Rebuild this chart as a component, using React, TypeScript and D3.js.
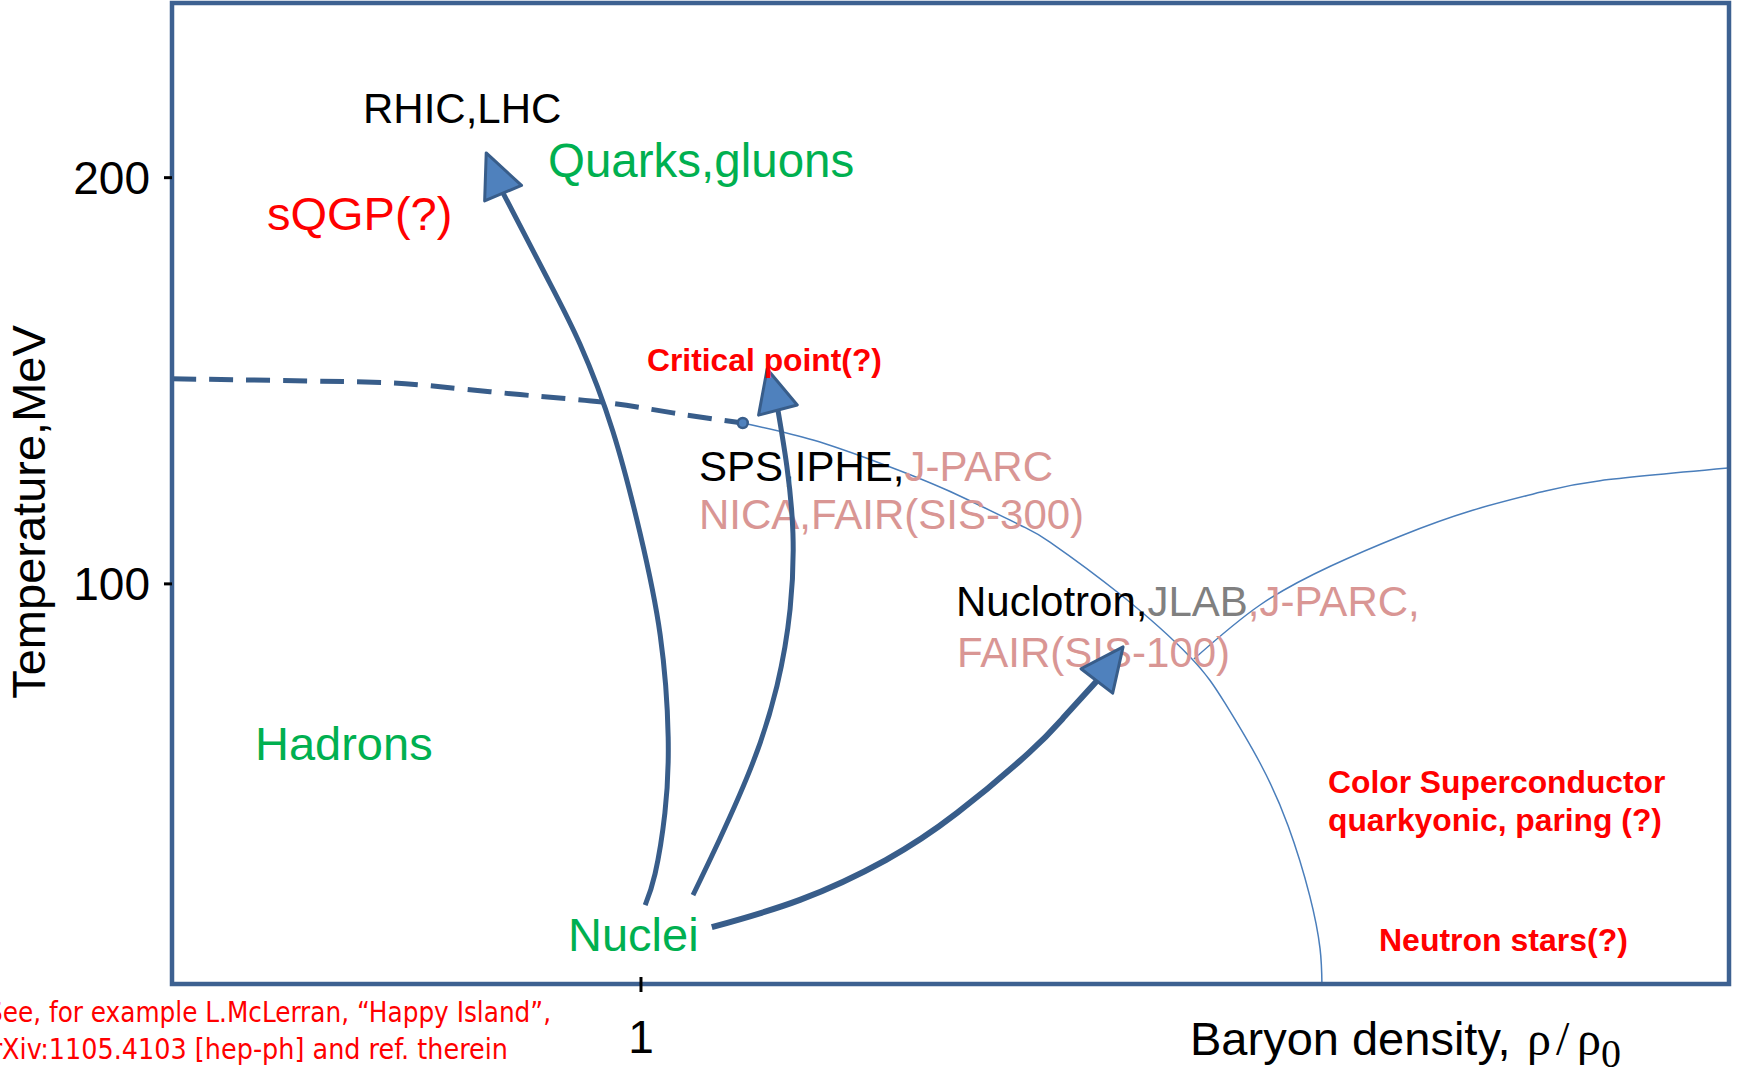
import React from 'react';
import * as d3 from 'd3';

// ---------- data (ρ/ρ0 , T in MeV) ----------
const xDomain: [number, number] = [0, 3.32];
const yDomain: [number, number] = [1.5, 243];
const yTicks = [100, 200];
const xTicks = [1];

// crossover (dashed) part of the phase boundary up to the critical point
const crossoverBoundary: [number, number][] = [
  [0, 150.5], [0.367, 149.8], [0.529, 149.0], [0.742, 146.6], [0.928, 144.6], [1.068, 142.1], [1.217, 139.6],
];
const criticalPoint: [number, number] = [1.217, 139.6];
// first-order boundary from the critical point down to T = 0
const firstOrderBoundary: [number, number][] = [
  [1.217, 139.6], [1.367, 135.4], [1.51, 129.7], [1.652, 123.1], [1.808, 114.5], [1.872, 110.3],
  [2.021, 97.5], [2.171, 82.0], [2.245, 70.7], [2.32, 55.9], [2.38, 40.4], [2.426, 23.2],
  [2.448, 10.2], [2.452, 1.5],
];
// quarkyonic boundary
const quarkyonicBoundary: [number, number][] = [
  [2.179, 81.5], [2.32, 94.8], [2.471, 104.4], [2.62, 111.8], [2.77, 118.0], [2.919, 122.6],
  [3.045, 125.4], [3.318, 128.5],
];
// collision trajectories (last point = arrow tip)
const arrowRHIC: [number, number][] = [
  [1.009, 20.9], [1.03, 28.6], [1.051, 43.6], [1.058, 62.3], [1.041, 87.4], [0.998, 112.5],
  [0.94, 137.6], [0.87, 159.0], [0.8, 175.3], [0.706, 196.2], [0.67, 206.1],
];
const arrowSPS: [number, number][] = [
  [1.111, 23.4], [1.168, 37.2], [1.239, 56.1], [1.29, 74.9], [1.318, 93.8], [1.324, 112.5],
  [1.311, 129.0], [1.292, 142.8], [1.269, 152.9],
];
const arrowNuclotron: [number, number][] = [
  [1.151, 15.5], [1.339, 22.2], [1.522, 32.0], [1.674, 43.6], [1.827, 58.4], [1.902, 67.2],
  [1.972, 76.1], [2.028, 84.5],
];

// ---------- layout / style ----------
const W = 1738;
const H = 1081;
const margin = { top: 3, right: 9, bottom: 97, left: 172 };
const FONT = 'Liberation Sans, Arial, sans-serif';
const SERIF = 'Liberation Serif, DejaVu Serif, serif';
const FRAME = '#3D6191';
const DARK = '#385D8A';
const FILL = '#4F81BD';
const THIN = '#4A7EBB';
const GREEN = '#00B050';
const RED = '#FF0000';
const PINK = '#D99694';
const GRAY = '#808080';

export default function App() {
  const x = d3.scaleLinear().domain(xDomain).range([margin.left, W - margin.right]);
  const y = d3.scaleLinear().domain(yDomain).range([H - margin.bottom, margin.top]);
  const line = d3
    .line<[number, number]>()
    .x((d) => x(d[0]))
    .y((d) => y(d[1]))
    .curve(d3.curveNatural);

  const arrow = (pts: [number, number][], width: number, key: string) => {
    const body = pts.slice(0, -1);
    const base = pts[pts.length - 2];
    const tip = pts[pts.length - 1];
    const bx = x(base[0]), by = y(base[1]);
    const tx = x(tip[0]), ty = y(tip[1]);
    const len = Math.hypot(tx - bx, ty - by);
    const ux = (tx - bx) / len, uy = (ty - by) / len;
    const hw = 20;
    const nx = -uy * hw, ny = ux * hw;
    const tri = `M${tx},${ty}L${bx + nx},${by + ny}L${bx - nx},${by - ny}Z`;
    return (
      <g key={key}>
        <path d={line(body) || ''} fill="none" stroke={DARK} strokeWidth={width} />
        <path d={tri} fill={FILL} stroke={DARK} strokeWidth={3} strokeLinejoin="round" />
      </g>
    );
  };

  const x0 = x(xDomain[0]), x1 = x(xDomain[1]);
  const y0 = y(yDomain[0]), y1 = y(yDomain[1]);

  return (
    <svg
      width={W}
      height={H}
      style={{ position: 'absolute', left: 0, top: 0, display: 'block', background: '#fff' }}
      fontFamily={FONT}
    >
      <rect x={0} y={0} width={W} height={H} fill="#fff" />

      {/* phase boundaries */}
      <path d={line(crossoverBoundary) || ''} fill="none" stroke={DARK} strokeWidth={5} strokeDasharray="24 13" />
      <path d={line(firstOrderBoundary) || ''} fill="none" stroke={THIN} strokeWidth={1.5} />
      <path d={line(quarkyonicBoundary) || ''} fill="none" stroke={THIN} strokeWidth={1.5} />

      {/* texts under arrows */}
      <text x={699} y={481} fontSize={42} fill="#000">
        SPS,IPHE,<tspan fill={PINK}>J-PARC</tspan>
      </text>
      <text x={699} y={529} fontSize={42} fill={PINK}>NICA,FAIR(SIS-300)</text>
      <text x={956} y={616} fontSize={42} fill="#000">
        Nuclotron,<tspan fill={GRAY}>JLAB</tspan><tspan fill={PINK}>,J-PARC,</tspan>
      </text>
      <text x={957} y={667} fontSize={42} fill={PINK}>FAIR(SIS-100)</text>

      {/* trajectories */}
      {arrow(arrowRHIC, 5, 'rhic')}
      {arrow(arrowSPS, 5, 'sps')}
      {arrow(arrowNuclotron, 6, 'nuc')}

      <circle cx={x(criticalPoint[0])} cy={y(criticalPoint[1])} r={5} fill={FILL} stroke={DARK} strokeWidth={2.5} />

      {/* frame */}
      <rect x={x0} y={y1} width={x1 - x0} height={y0 - y1} fill="none" stroke={FRAME} strokeWidth={4.5} />

      {/* y ticks */}
      {yTicks.map((t) => (
        <g key={`y${t}`}>
          <line x1={x0 - 8} x2={x0} y1={y(t)} y2={y(t)} stroke="#000" strokeWidth={3} />
          <text x={x0 - 22} y={y(t)} dy="0.36em" textAnchor="end" fontSize={46} fill="#000">
            {t}
          </text>
        </g>
      ))}
      {/* x ticks */}
      {xTicks.map((t) => (
        <g key={`x${t}`}>
          <line x1={x(t)} x2={x(t)} y1={y0 - 7} y2={y0 + 8} stroke="#000" strokeWidth={3} />
          <text x={x(t)} y={1053} textAnchor="middle" fontSize={46} fill="#000">
            {t}
          </text>
        </g>
      ))}

      {/* axis titles */}
      <text transform="translate(45,512) rotate(-90)" textAnchor="middle" fontSize={47} fill="#000">
        Temperature,MeV
      </text>
      <text x={1190} y={1055} fontSize={47} fill="#000">
        Baryon density,
      </text>
      <text y={1055} fontFamily={SERIF} fontSize={48} fill="#000">
        <tspan x={1527}>ρ</tspan>
        <tspan x={1556}>/</tspan>
        <tspan x={1577}>ρ</tspan>
        <tspan x={1601} y={1067} fontSize={40}>0</tspan>
      </text>

      {/* region labels */}
      <text x={363} y={123} fontSize={42} fill="#000">RHIC,LHC</text>
      <text x={548} y={177} fontSize={47.5} fill={GREEN}>Quarks,gluons</text>
      <text x={267} y={230} fontSize={47} fill={RED}>sQGP(?)</text>
      <text x={647} y={371} fontSize={31.8} fontWeight="bold" fill={RED}>Critical point(?)</text>
      <text x={255} y={760} fontSize={47} fill={GREEN}>Hadrons</text>
      <text x={568} y={951} fontSize={47} fill={GREEN}>Nuclei</text>
      <text x={1328} y={793} fontSize={31.8} fontWeight="bold" fill={RED}>Color Superconductor</text>
      <text x={1328} y={831} fontSize={31.8} fontWeight="bold" fill={RED}>quarkyonic, paring (?)</text>
      <text x={1379} y={951} fontSize={32} fontWeight="bold" fill={RED}>Neutron stars(?)</text>

      {/* footnote */}
      <text
        x={551}
        y={1022}
        textAnchor="end"
        fontSize={29}
        fill={RED}
        fontFamily="Liberation Sans Narrow, DejaVu Sans Condensed, sans-serif"
        textLength={564}
        lengthAdjust="spacingAndGlyphs"
      >
        See, for example L.McLerran, “Happy Island”,
      </text>
      <text
        x={508}
        y={1059}
        textAnchor="end"
        fontSize={29}
        fill={RED}
        fontFamily="Liberation Sans Narrow, DejaVu Sans Condensed, sans-serif"
        textLength={532}
        lengthAdjust="spacingAndGlyphs"
      >
        arXiv:1105.4103 [hep-ph] and ref. therein
      </text>
    </svg>
  );
}
